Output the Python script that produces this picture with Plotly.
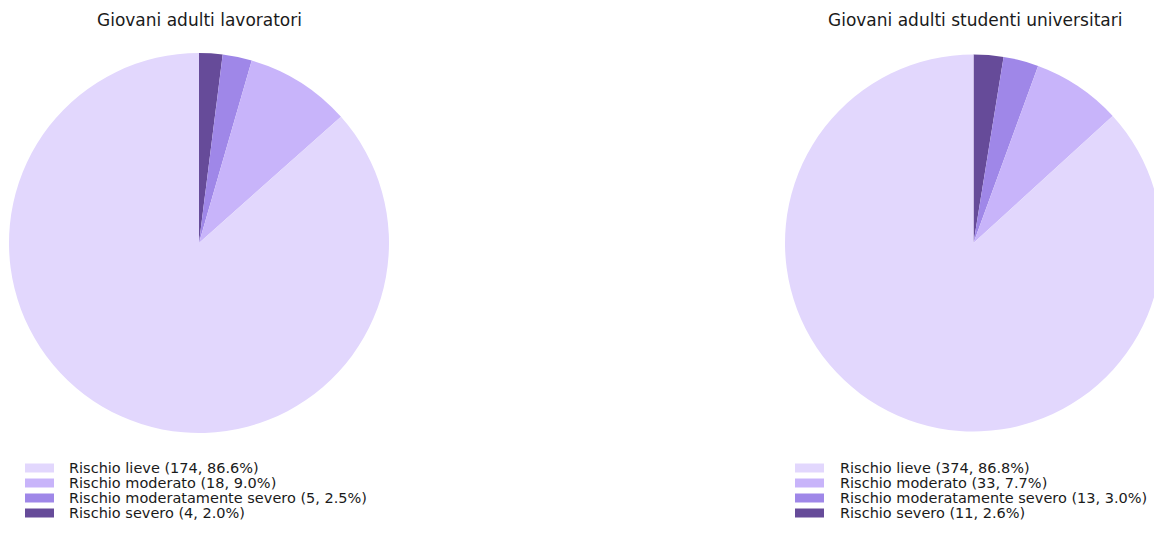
import plotly.graph_objects as go

categories = ["Rischio lieve", "Rischio moderato", "Rischio moderatamente severo", "Rischio severo"]
lavoratori_counts = [174, 18, 5, 4]
studenti_counts = [374, 33, 13, 11]
titles = ["Giovani adulti lavoratori", "Giovani adulti studenti universitari"]
colors = ["#E2D7FD", "#C8B4FA", "#9F87E8", "#664B99"]

OFF = 8
W, H = 1162 - OFF, 539 - OFF
def px(x):
    return (x - OFF) / W
def py(y):
    return 1 - (y - OFF) / H

fig = go.Figure()

panels = [
    dict(counts=lavoratori_counts, title=titles[0], cx=199, xdom=(9, 389), sw_x=25, tx=67),
    dict(counts=studenti_counts, title=titles[1], cx=975, xdom=(785, 1162), sw_x=795, tx=838),
]

for p in panels:
    counts = p["counts"]
    total = sum(counts)
    fig.add_trace(go.Pie(
        labels=categories[::-1], values=counts[::-1], sort=False, direction="clockwise",
        rotation=0, textinfo="none", hoverinfo="label+value+percent",
        marker=dict(colors=colors[::-1], line=dict(width=0)),
        domain=dict(x=[max(0, px(p["xdom"][0])), min(1, px(p["xdom"][1]))], y=[py(433), py(53)]),
        showlegend=False,
    ))
    fig.add_annotation(x=px(p["cx"]), y=py(20), xref="paper", yref="paper",
                       text=p["title"], showarrow=False, xanchor="center", yanchor="middle",
                       font=dict(family="DejaVu Sans", size=17, color="#1a1a1a"))
    row_y = [468, 483, 498, 513]
    for i, (cat, c) in enumerate(zip(categories, counts)):
        pct = 100.0 * c / total
        y = row_y[i]
        fig.add_shape(type="rect", xref="paper", yref="paper",
                      x0=px(p["sw_x"]), x1=px(p["sw_x"] + 29), y0=py(y - 4.5), y1=py(y + 4.5),
                      fillcolor=colors[i], line=dict(width=0))
        fig.add_annotation(x=px(p["tx"]), y=py(y), xref="paper", yref="paper",
                           text=f"{cat} ({c}, {pct:.1f}%)", showarrow=False,
                           xanchor="left", yanchor="middle",
                           font=dict(family="DejaVu Sans", size=14.5, color="#1a1a1a"))

fig.update_layout(width=W, height=H, margin=dict(l=0, r=0, t=0, b=0),
                  paper_bgcolor="white", plot_bgcolor="white")
fig.write_html("out.html")
